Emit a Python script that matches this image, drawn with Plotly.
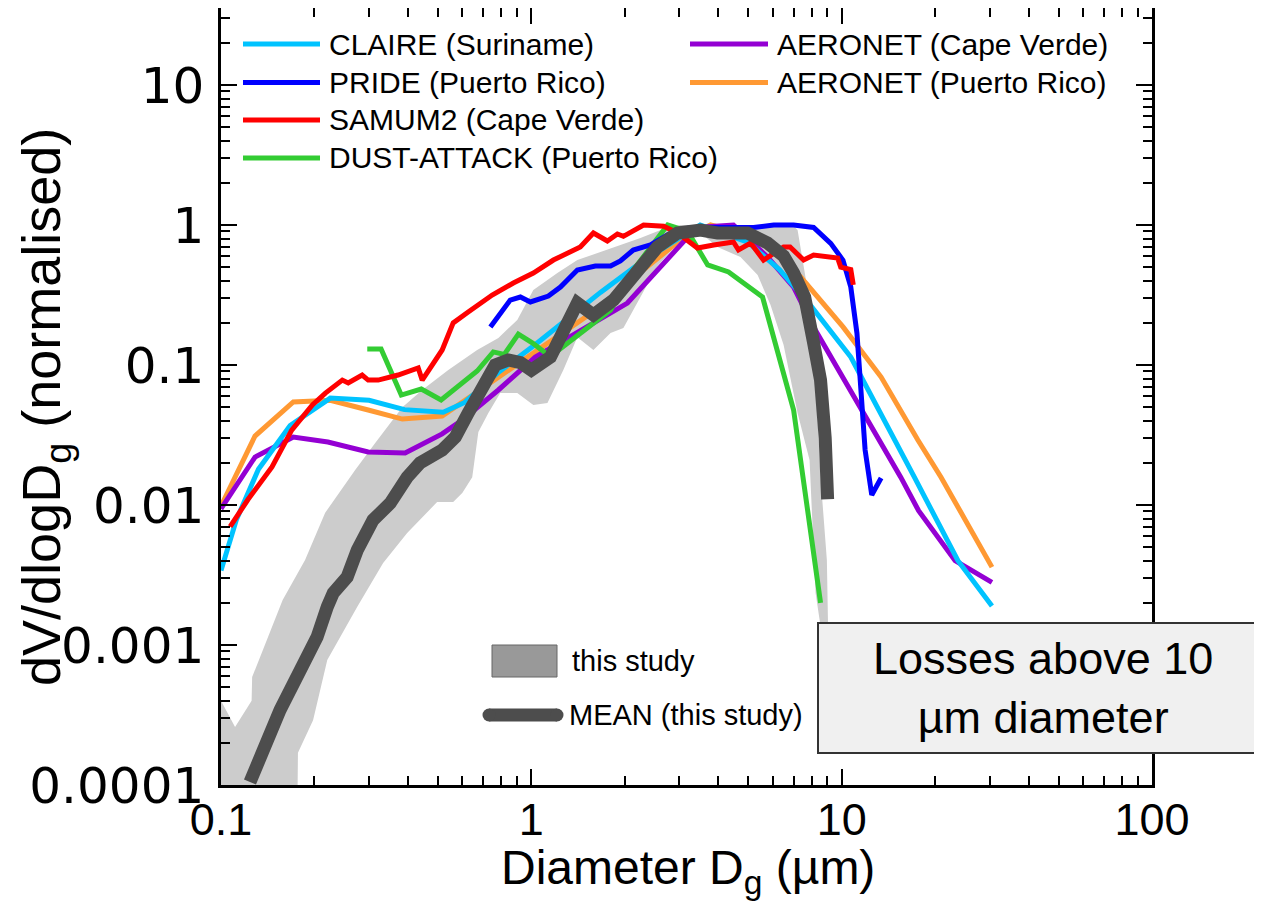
import plotly.graph_objects as go

# ---------------- data ----------------
claire_x = [0.1, 0.112, 0.132, 0.167, 0.225, 0.30, 0.39, 0.52, 0.61, 0.78, 1.03, 1.67, 2.25, 3.5, 5.0, 6.3, 7.8, 10.7, 17.1, 23.7, 30.5]
claire_y = [0.0034, 0.0078, 0.018, 0.037, 0.058, 0.056, 0.048, 0.046, 0.054, 0.088, 0.14, 0.33, 0.54, 1.0, 0.75, 0.48, 0.28, 0.114, 0.016, 0.004, 0.0019]

pride_x = [0.738, 0.855, 0.922, 0.993, 1.135, 1.241, 1.407, 1.608, 1.8, 1.936, 2.13, 2.42, 2.75, 3.19, 3.7, 4.48, 5.2, 6.04, 7.0, 8.12, 9.22, 10.1, 10.7, 11.2, 11.9, 12.5, 13.4]
pride_y = [0.187, 0.291, 0.306, 0.282, 0.311, 0.36, 0.477, 0.509, 0.509, 0.553, 0.663, 0.72, 0.85, 0.95, 0.96, 0.97, 0.96, 1.0, 1.0, 0.96, 0.74, 0.56, 0.36, 0.169, 0.0247, 0.0118, 0.0156]

samum_x = [0.107, 0.122, 0.146, 0.169, 0.197, 0.217, 0.246, 0.257, 0.285, 0.298, 0.321, 0.372, 0.432, 0.445, 0.516, 0.56, 0.626, 0.748, 0.875, 1.015, 1.178, 1.335, 1.438, 1.585, 1.758, 1.894, 1.98, 2.3, 2.67, 2.96, 3.43, 3.87, 4.48, 4.65, 5.09, 5.6, 6.5, 6.82, 7.54, 8.12, 9.71, 9.93, 10.7, 10.9]
samum_y = [0.007, 0.0109, 0.0187, 0.0343, 0.0518, 0.063, 0.078, 0.0744, 0.0848, 0.078, 0.078, 0.0848, 0.0952, 0.078, 0.128, 0.2, 0.239, 0.316, 0.385, 0.454, 0.562, 0.641, 0.697, 0.877, 0.769, 0.862, 0.83, 1.0, 0.98, 0.877, 0.685, 0.72, 0.757, 0.663, 0.743, 0.562, 0.697, 0.697, 0.562, 0.61, 0.58, 0.5, 0.48, 0.373]

dust_x = [0.296, 0.328, 0.381, 0.442, 0.512, 0.669, 0.754, 0.818, 0.908, 1.007, 1.15, 1.4, 1.8, 2.13, 2.75, 3.19, 3.7, 4.32, 5.56, 7.0, 8.55]
dust_y = [0.13, 0.13, 0.061, 0.0674, 0.0562, 0.0906, 0.124, 0.119, 0.166, 0.144, 0.115, 0.16, 0.247, 0.477, 1.0, 0.9, 0.518, 0.462, 0.306, 0.0477, 0.002]

aero_cv_x = [0.1, 0.1287, 0.171, 0.221, 0.298, 0.392, 0.516, 0.599, 0.783, 1.03, 2.04, 3.19, 3.6, 4.48, 5.77, 7.0, 8.12, 11.5, 15.5, 17.7, 23.2, 30.5]
aero_cv_y = [0.0094, 0.022, 0.0306, 0.0282, 0.0239, 0.0235, 0.0322, 0.0405, 0.0663, 0.114, 0.277, 0.82, 0.97, 1.0, 0.59, 0.36, 0.187, 0.05, 0.0158, 0.0091, 0.004, 0.0028]

aero_pr_x = [0.1, 0.1287, 0.171, 0.225, 0.298, 0.384, 0.516, 0.645, 1.127, 1.67, 2.09, 3.02, 3.78, 5.0, 6.0, 7.38, 10.1, 13.4, 17.6, 20.9, 30.5]
aero_pr_y = [0.0098, 0.0311, 0.0545, 0.056, 0.0477, 0.0411, 0.0432, 0.061, 0.1436, 0.26, 0.405, 0.78, 1.0, 0.85, 0.65, 0.425, 0.187, 0.082, 0.0291, 0.0158, 0.0036]

mean_x = [0.124, 0.1356, 0.155, 0.18, 0.204, 0.22, 0.23, 0.255, 0.275, 0.309, 0.351, 0.398, 0.438, 0.516, 0.569, 0.626, 0.695, 0.765, 0.843, 0.922, 1.0, 1.152, 1.407, 1.585, 1.84, 2.13, 2.55, 2.96, 3.51, 3.98, 4.97, 5.77, 6.5, 7.0, 7.6, 8.12, 8.55, 8.85, 9.01]
mean_y = [0.000105, 0.00017, 0.000343, 0.00066, 0.00114, 0.00187, 0.00235, 0.00306, 0.00477, 0.00781, 0.0103, 0.0158, 0.02, 0.0247, 0.0306, 0.0454, 0.0663, 0.1, 0.1086, 0.104, 0.092, 0.114, 0.277, 0.228, 0.291, 0.425, 0.697, 0.877, 0.92, 0.877, 0.877, 0.743, 0.6, 0.454, 0.306, 0.144, 0.078, 0.03, 0.011]

band_upper_x = [0.1, 0.111, 0.1255, 0.126, 0.158, 0.1866, 0.2166, 0.2706, 0.314, 0.384, 0.445, 0.54, 0.669, 0.783, 0.901, 1.015, 1.213, 1.407, 1.67, 1.936, 2.247, 2.61, 3.02, 5.09, 7.0, 7.21, 7.77, 8.12, 8.55, 8.96, 9.08]
band_upper_y = [0.0004, 0.00026, 0.0004, 0.00059, 0.0021, 0.00405, 0.0088, 0.0178, 0.0277, 0.05, 0.0663, 0.092, 0.128, 0.156, 0.21, 0.343, 0.454, 0.562, 0.641, 0.72, 0.807, 0.92, 1.0, 1.0, 0.98, 0.92, 0.343, 0.158, 0.0158, 0.00405, 0.00078]
band_lower_x = [8.68, 8.24, 7.88, 7.21, 6.5, 5.9, 5.36, 4.72, 3.98, 3.51, 3.09, 2.55, 2.247, 1.98, 1.8, 1.585, 1.407, 1.268, 1.127, 1.015, 0.901, 0.794, 0.727, 0.675, 0.645, 0.599, 0.56, 0.497, 0.398, 0.333, 0.2746, 0.242, 0.22, 0.198, 0.177, 0.176, 0.1]
band_lower_y = [0.00109, 0.00235, 0.021, 0.0454, 0.139, 0.268, 0.44, 0.59, 0.697, 0.877, 0.82, 0.509, 0.306, 0.184, 0.169, 0.128, 0.158, 0.092, 0.0535, 0.0518, 0.063, 0.063, 0.0454, 0.0332, 0.0158, 0.0122, 0.0105, 0.0105, 0.0063, 0.00385, 0.00187, 0.00114, 0.00078, 0.00029, 0.00017, 0.00005, 0.00005]

x_tickvals = [0.1, 1, 10, 100]
x_ticktext = ["0.1", "1", "10", "100"]
y_tickvals = [0.0001, 0.001, 0.01, 0.1, 1, 10]
y_ticktext = ["0.0001", "0.001", "0.01", "0.1", "1", "10"]

series = [
    ("CLAIRE (Suriname)", claire_x, claire_y, "#00C3FF"),
    ("PRIDE (Puerto Rico)", pride_x, pride_y, "#0000FF"),
    ("SAMUM2 (Cape Verde)", samum_x, samum_y, "#FF0000"),
    ("DUST-ATTACK (Puerto Rico)", dust_x, dust_y, "#33CC33"),
    ("AERONET (Cape Verde)", aero_cv_x, aero_cv_y, "#9400D3"),
    ("AERONET (Puerto Rico)", aero_pr_x, aero_pr_y, "#FF9933"),
]
draw_order = [5, 4, 0, 3, 1, 2]

FONT = "Liberation Sans, Arial, sans-serif"
OFF = 8                      # page offset of the plot div (body margin)
W, H = 1262, 902
# target screen positions of the plot frame
SL, SR, ST, SB = 221, 1152, 6, 785
ml = SL - OFF
mr = W - (SR - OFF)
mt = 0
mb = H - (SB - OFF)
PW = W - ml - mr
PH = H - mt - mb
y_top = -4 + PH / 140.0

def px(sx):
    return (sx - OFF - ml) / PW

def py(sy):
    return (SB - sy) / PH

fig = go.Figure()

# grey band (this study)
fig.add_trace(go.Scatter(
    x=band_upper_x + band_lower_x, y=band_upper_y + band_lower_y,
    mode="lines", fill="toself", fillcolor="#CCCCCC",
    line=dict(width=0, color="#CCCCCC"), hoverinfo="skip", showlegend=False))

for i in draw_order:
    name, xs, ys, col = series[i]
    fig.add_trace(go.Scatter(x=xs, y=ys, mode="lines", name=name,
                             line=dict(color=col, width=5), showlegend=False))

fig.add_trace(go.Scatter(x=mean_x, y=mean_y, mode="lines", name="MEAN (this study)",
                         line=dict(color="#4D4D4D", width=13), showlegend=False))

shapes = []
annotations = []

# custom legend
rows = [44, 82.5, 120, 158]
col_defs = [(243, 320, 327, [0, 1, 2, 3]), (690, 768, 775, [4, 5])]
for x0, x1, xt, idxs in col_defs:
    for r, i in enumerate(idxs):
        name, _, _, col = series[i]
        shapes.append(dict(type="line", xref="paper", yref="paper",
                           x0=px(x0), x1=px(x1), y0=py(rows[r]), y1=py(rows[r]),
                           line=dict(color=col, width=5), layer="above"))
        annotations.append(dict(text=name, xref="paper", yref="paper", x=px(xt), y=py(rows[r]),
                                xanchor="left", yanchor="middle", showarrow=False,
                                font=dict(size=30, color="black", family=FONT)))

# band legend
shapes.append(dict(type="rect", xref="paper", yref="paper", x0=px(492), x1=px(557),
                   y0=py(677), y1=py(645), fillcolor="#999999",
                   line=dict(color="#666666", width=1), layer="above"))
annotations.append(dict(text="this study", xref="paper", yref="paper", x=px(570), y=py(661),
                        xanchor="left", yanchor="middle", showarrow=False,
                        font=dict(size=29, color="black", family=FONT)))
shapes.append(dict(type="line", xref="paper", yref="paper", x0=px(489), x1=px(557),
                   y0=py(715), y1=py(715), line=dict(color="#4D4D4D", width=13), layer="above"))
for xc in (489, 557):
    shapes.append(dict(type="circle", xref="paper", yref="paper", xsizemode="pixel", ysizemode="pixel",
                       xanchor=px(xc), yanchor=py(715), x0=-6.5, x1=6.5, y0=-6.5, y1=6.5,
                       fillcolor="#4D4D4D", line=dict(width=0), layer="above"))
annotations.append(dict(text="MEAN (this study)", xref="paper", yref="paper", x=px(567), y=py(715),
                        xanchor="left", yanchor="middle", showarrow=False,
                        font=dict(size=29, color="black", family=FONT)))

# losses box
shapes.append(dict(type="rect", xref="paper", yref="paper", x0=px(818), x1=px(1280),
                   y0=py(753), y1=py(623), fillcolor="#F0F0F0",
                   line=dict(color="#333333", width=2), layer="above"))
annotations.append(dict(text="Losses above 10<br>µm diameter", xref="paper", yref="paper",
                        x=px(1043), y=py(688), xanchor="center", yanchor="middle", showarrow=False,
                        align="center", font=dict(size=45, color="black", family=FONT)))

# axis titles
annotations.append(dict(text="Diameter D<sub>g</sub> (µm)", xref="paper", yref="paper",
                        x=px(688), y=py(871), xanchor="center", yanchor="middle", showarrow=False,
                        font=dict(size=48, color="black", family=FONT)))
annotations.append(dict(text="dV/dlogD<sub>g</sub> (normalised)", xref="paper", yref="paper",
                        x=px(45), y=py(407), xanchor="center", yanchor="middle", showarrow=False,
                        textangle=-90, font=dict(size=54, color="black", family=FONT)))

axis_common = dict(type="log", showgrid=False, zeroline=False, showline=True,
                   linecolor="black", linewidth=2.5, mirror="allticks",
                   ticks="inside", ticklen=16, tickwidth=2, tickcolor="black",
                   minor=dict(ticks="inside", ticklen=9, tickwidth=2, tickcolor="black", dtick="D1",
                              showgrid=False))

fig.update_xaxes(range=[-1, 2], tickmode="array", tickvals=x_tickvals, ticktext=x_ticktext,
                 tickfont=dict(size=45, color="black", family=FONT), ticklabelstandoff=-7,
                 **axis_common)
fig.update_yaxes(range=[-4, y_top], tickmode="array", tickvals=y_tickvals, ticktext=y_ticktext,
                 tickfont=dict(size=50, color="black", family="DejaVu Sans"), ticklabelstandoff=4,
                 **axis_common)

fig.update_layout(width=W, height=H, margin=dict(l=ml, r=mr, t=mt, b=mb, autoexpand=False),
                  paper_bgcolor="white", plot_bgcolor="white", showlegend=False,
                  shapes=shapes, annotations=annotations, font=dict(family=FONT, color="black"))

fig.write_html("out.html")
